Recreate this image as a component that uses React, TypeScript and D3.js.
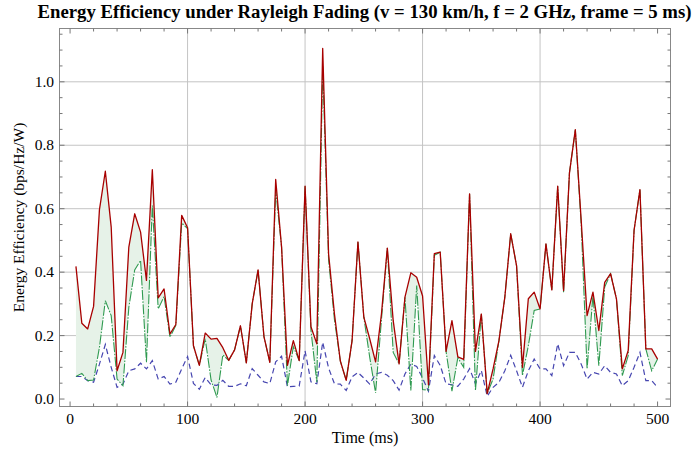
import React from "react";
import * as d3 from "d3";

const times: number[] = Array.from({ length: 100 }, (_, i) => (i + 1) * 5);

const upper: number[] = [
  0.418, 0.239, 0.221, 0.292, 0.597, 0.718, 0.542, 0.089, 0.147, 0.479,
  0.584, 0.526, 0.374, 0.723, 0.319, 0.347, 0.205, 0.235, 0.579, 0.540,
  0.168, 0.106, 0.208, 0.189, 0.191, 0.162, 0.122, 0.155, 0.231, 0.114,
  0.300, 0.407, 0.197, 0.116, 0.692, 0.479, 0.106, 0.184, 0.121, 0.671,
  0.228, 0.174, 1.105, 0.458, 0.268, 0.120, 0.059, 0.184, 0.495, 0.258,
  0.190, 0.117, 0.268, 0.476, 0.247, 0.111, 0.321, 0.398, 0.384, 0.325,
  0.045, 0.458, 0.463, 0.150, 0.247, 0.133, 0.125, 0.647, 0.150, 0.268,
  0.017, 0.095, 0.184, 0.321, 0.521, 0.420, 0.100, 0.316, 0.337, 0.284,
  0.489, 0.344, 0.671, 0.342, 0.713, 0.849, 0.563, 0.263, 0.337, 0.216,
  0.368, 0.395, 0.316, 0.095, 0.153, 0.532, 0.660, 0.158, 0.158, 0.126,
];

const middle: number[] = [
  0.071, 0.081, 0.058, 0.060, 0.163, 0.310, 0.263, 0.063, 0.042, 0.289,
  0.407, 0.437, 0.116, 0.610, 0.284, 0.323, 0.195, 0.232, 0.555, 0.537,
  0.168, 0.106, 0.190, 0.060, 0.005, 0.139, 0.122, 0.155, 0.231, 0.114,
  0.300, 0.407, 0.197, 0.116, 0.660, 0.479, 0.042, 0.165, 0.121, 0.671,
  0.216, 0.053, 1.050, 0.440, 0.250, 0.120, 0.059, 0.184, 0.495, 0.258,
  0.132, 0.019, 0.250, 0.476, 0.147, 0.111, 0.321, 0.027, 0.358, 0.030,
  0.028, 0.453, 0.463, 0.150, 0.025, 0.130, 0.100, 0.647, 0.027, 0.268,
  0.017, 0.063, 0.184, 0.321, 0.521, 0.420, 0.074, 0.168, 0.279, 0.284,
  0.489, 0.344, 0.671, 0.335, 0.713, 0.849, 0.550, 0.095, 0.326, 0.105,
  0.353, 0.395, 0.316, 0.074, 0.137, 0.532, 0.660, 0.158, 0.089, 0.126,
];

const lower: number[] = [
  0.071, 0.071, 0.058, 0.053, 0.110, 0.172, 0.100, 0.037, 0.047, 0.089,
  0.095, 0.113, 0.095, 0.121, 0.063, 0.071, 0.047, 0.053, 0.095, 0.134,
  0.049, 0.031, 0.068, 0.045, 0.043, 0.059, 0.040, 0.040, 0.048, 0.042,
  0.096, 0.075, 0.054, 0.049, 0.117, 0.135, 0.038, 0.040, 0.041, 0.152,
  0.054, 0.048, 0.179, 0.098, 0.048, 0.047, 0.027, 0.070, 0.084, 0.066,
  0.047, 0.079, 0.084, 0.075, 0.058, 0.028, 0.079, 0.110, 0.103, 0.066,
  0.025, 0.137, 0.106, 0.048, 0.045, 0.040, 0.063, 0.096, 0.048, 0.090,
  0.009, 0.037, 0.053, 0.089, 0.138, 0.089, 0.037, 0.089, 0.126, 0.095,
  0.095, 0.074, 0.174, 0.105, 0.147, 0.147, 0.110, 0.063, 0.084, 0.079,
  0.105, 0.084, 0.079, 0.042, 0.058, 0.100, 0.147, 0.058, 0.058, 0.037,
];

const xMajor: number[] = [0, 100, 200, 300, 400, 500];
const yMajor: number[] = [0, 0.2, 0.4, 0.6, 0.8, 1.0];

const W = 696;
const H = 449;
const L = 59.5;
const R = 670.5;
const T = 28.5;
const B = 406.5;

export default function App() {
  const x = d3.scaleLinear().domain([-9, 511]).range([L, R]);
  const y = d3.scaleLinear().domain([-0.0235, 1.168]).range([B, T]);

  const idx = times.map((_, i) => i);
  const lineOf = (vals: number[]) =>
    d3
      .line<number>()
      .x((i) => x(times[i]))
      .y((i) => y(vals[i]))(idx) || "";
  const area =
    d3
      .area<number>()
      .x((i) => x(times[i]))
      .y0((i) => y(middle[i]))
      .y1((i) => y(upper[i]))(idx) || "";

  const xMinor = d3.range(0, 511, 20).filter((v) => v % 100 !== 0);
  const yMinor = d3.range(0, 1.16, 0.05).filter((v) => Math.abs(v / 0.2 - Math.round(v / 0.2)) > 0.01);

  const fs: React.CSSProperties = { fontFamily: "Liberation Serif, Times New Roman, DejaVu Serif, serif" };
  const tickCol = "#777";

  return (
    <svg width={W} height={H} style={{ position: "absolute", left: 0, top: 0, background: "#fff" }}>
      <rect x={0} y={0} width={W} height={H} fill="#fff" />
      <text x={364.5} y={18} textAnchor="middle" fontSize={18} fontWeight="bold" fill="#000" style={fs}
        textLength={654} lengthAdjust="spacingAndGlyphs">
        Energy Efficiency under Rayleigh Fading (v = 130 km/h, f = 2 GHz, frame = 5 ms)
      </text>
      {/* grid */}
      {xMajor.filter((v) => v > 0 && v < 500).map((v) => (
        <line key={"gx" + v} x1={x(v)} x2={x(v)} y1={T} y2={B} stroke="#c4c4c4" strokeWidth={1} />
      ))}
      {yMajor.filter((v) => v > 0).map((v) => (
        <line key={"gy" + v} x1={L} x2={R} y1={y(v)} y2={y(v)} stroke="#c4c4c4" strokeWidth={1} />
      ))}
      {/* fill */}
      <path d={area} fill="#e6f2e8" stroke="none" />
      {/* lines */}
      <path d={lineOf(lower)} fill="none" stroke="#4646b0" strokeWidth={1.2} strokeDasharray="5.5,3.5" />
      <path d={lineOf(middle)} fill="none" stroke="#2f9a50" strokeWidth={1.1} strokeDasharray="10,1.5,1.5,1.5" />
      <path d={lineOf(upper)} fill="none" stroke="#a80000" strokeWidth={1.3} strokeLinejoin="round" />
      {/* frame */}
      <rect x={L} y={T} width={R - L} height={B - T} fill="none" stroke="#888" strokeWidth={1} />
      {/* x ticks */}
      {xMajor.map((v) => (
        <g key={"xt" + v}>
          <line x1={x(v)} x2={x(v)} y1={B} y2={B - 5} stroke={tickCol} />
          <line x1={x(v)} x2={x(v)} y1={T} y2={T + 5} stroke={tickCol} />
          <text x={x(v)} y={424} textAnchor="middle" fontSize={15.5} fill="#000" style={fs}>
            {v}
          </text>
        </g>
      ))}
      {xMinor.map((v) => (
        <g key={"xm" + v}>
          <line x1={x(v)} x2={x(v)} y1={B} y2={B - 3} stroke={tickCol} />
          <line x1={x(v)} x2={x(v)} y1={T} y2={T + 3} stroke={tickCol} />
        </g>
      ))}
      {/* y ticks */}
      {yMajor.map((v) => (
        <g key={"yt" + v}>
          <line x1={L} x2={L + 5} y1={y(v)} y2={y(v)} stroke={tickCol} />
          <line x1={R} x2={R - 5} y1={y(v)} y2={y(v)} stroke={tickCol} />
          <text x={54} y={y(v) + 5} textAnchor="end" fontSize={15.5} fill="#000" style={fs}>
            {v.toFixed(1)}
          </text>
        </g>
      ))}
      {yMinor.map((v) => (
        <g key={"ym" + v}>
          <line x1={L} x2={L + 3} y1={y(v)} y2={y(v)} stroke={tickCol} />
          <line x1={R} x2={R - 3} y1={y(v)} y2={y(v)} stroke={tickCol} />
        </g>
      ))}
      <text x={365} y={443} textAnchor="middle" fontSize={16} fill="#000" style={fs}>
        Time (ms)
      </text>
      <text transform={`translate(24, ${(T + B) / 2}) rotate(-90)`} textAnchor="middle" fontSize={15.5} fill="#000" style={fs}>
        Energy Efficiency (bps/Hz/W)
      </text>
    </svg>
  );
}
